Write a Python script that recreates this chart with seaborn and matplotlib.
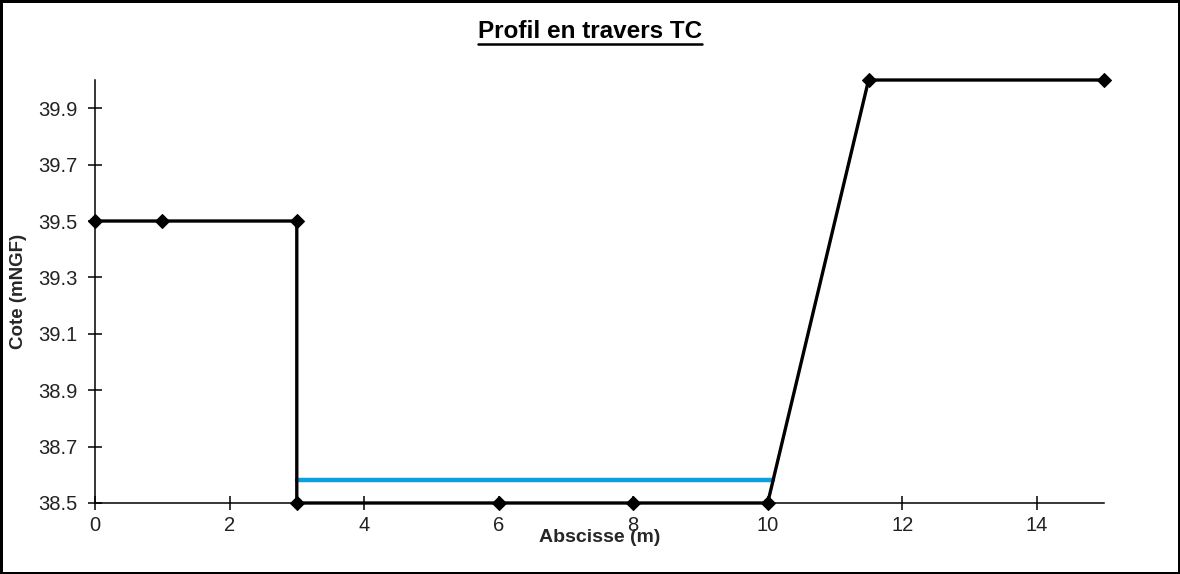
import matplotlib
matplotlib.use("Agg")
import matplotlib.pyplot as plt
import seaborn as sns
import pandas as pd
from matplotlib.lines import Line2D

# Data
abscisse = [0, 1, 3, 3, 6, 8, 10, 11.5, 15]
cote = [39.5, 39.5, 39.5, 38.5, 38.5, 38.5, 38.5, 40.0, 40.0]
eau_x = [3, 10.08]
eau_y = [38.58, 38.58]
xticks = [0, 2, 4, 6, 8, 10, 12, 14]
yticks = [38.5, 38.7, 38.9, 39.1, 39.3, 39.5, 39.7, 39.9]

sns.set_style("ticks")
plt.rcParams["font.family"] = ["Liberation Sans", "DejaVu Sans"]

fig = plt.figure(figsize=(11.8, 5.74), dpi=100)
fig.patch.set_facecolor("white")
fig.patch.set_edgecolor("black")
fig.patch.set_linewidth(2.5)
ax = fig.add_axes([0.0805, 0.1237, 0.8551, 0.7369])

prof = pd.DataFrame({"x": abscisse, "y": cote})
eau = pd.DataFrame({"x": eau_x, "y": eau_y})

sns.lineplot(data=eau, x="x", y="y", sort=False, estimator=None, errorbar=None,
             ax=ax, color="#0aa0e0", linewidth=3.2, zorder=2)
sns.lineplot(data=prof, x="x", y="y", sort=False, estimator=None, errorbar=None,
             ax=ax, color="black", linewidth=2.4, marker="D", markersize=7,
             markeredgecolor="black", markerfacecolor="black", zorder=3,
             clip_on=False)

ax.set_xlim(0, 15)
ax.set_ylim(38.5, 40.0)
ax.set_xticks(xticks)
ax.set_xticklabels([str(v) for v in xticks])
ax.set_yticks(yticks)
ax.set_yticklabels([f"{v:.1f}" for v in yticks])
for s in ["top", "right"]:
    ax.spines[s].set_visible(False)
for s in ["left", "bottom"]:
    ax.spines[s].set_linewidth(1.1)
    ax.spines[s].set_color("black")
ax.tick_params(axis="both", direction="inout", length=10, width=1.1,
               colors="black", labelsize=14.5, labelcolor="#222222")
ax.tick_params(axis="x", pad=4.5)
ax.tick_params(axis="y", pad=7.5)

ax.set_xlabel("Abscisse (m)", fontsize=14, fontweight="bold")
ax.set_ylabel("Cote (mNGF)", fontsize=13.5, fontweight="bold")
ax.yaxis.set_label_coords(-0.067, 0.5)
ax.xaxis.set_label_coords(0.5, -0.062)

title = fig.text(0.5, 1 - 38 / 574, "Profil en travers TC", ha="center",
                 va="baseline", fontsize=17.5, fontweight="bold", color="black")
fig.canvas.draw()
bb = title.get_window_extent().transformed(fig.transFigure.inverted())
yline = 1 - 43.5 / 574
fig.add_artist(Line2D([bb.x0, bb.x1], [yline, yline], transform=fig.transFigure,
                      color="black", linewidth=1.8))

fig.savefig("out.png", dpi=100, facecolor=fig.get_facecolor(),
            edgecolor=fig.get_edgecolor())
